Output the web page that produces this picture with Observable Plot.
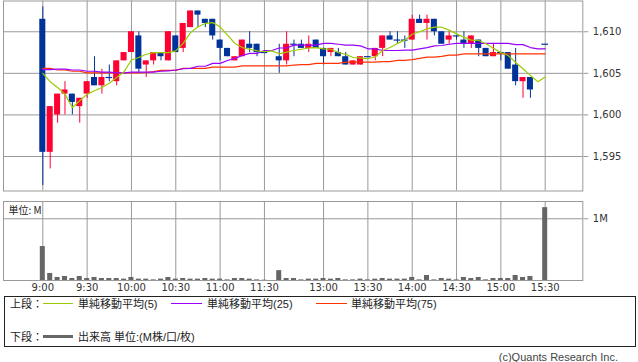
<!DOCTYPE html>
<html><head><meta charset="utf-8">
<script src="https://cdn.jsdelivr.net/npm/d3@7"></script>
<script src="https://cdn.jsdelivr.net/npm/@observablehq/plot@0.6"></script>
<style>
body{margin:0;background:#fff;}
#wrap{position:relative;width:638px;height:362px;overflow:hidden;background:#fff;}
#top,#vol{position:absolute;left:0;}
#top{top:0}
#vol{top:195px}
#box{position:absolute;left:4px;top:296px;width:632px;height:51px;border:1px solid #222;box-sizing:border-box;}
.lg{position:absolute;font-family:"Liberation Sans","Noto Sans CJK JP",sans-serif;font-size:11px;line-height:12px;color:#222;white-space:nowrap;}
.sw{position:absolute;height:0;}
#cap{position:absolute;right:20px;top:351px;font-family:"Liberation Sans",sans-serif;font-size:11px;line-height:13px;color:#444;white-space:nowrap;}
</style></head>
<body>
<div id="wrap">
  <div id="top"></div>
  <div id="vol"></div>
  <div id="box"></div>
  <span class="lg" style="left:10px;top:298px">上段：</span>
  <div class="sw" style="left:43px;width:30px;top:303px;border-top:1px solid #99cc00"></div>
  <span class="lg" style="left:78px;top:298px">単純移動平均(5)</span>
  <div class="sw" style="left:171px;width:31px;top:303px;border-top:1px solid #9900ff"></div>
  <span class="lg" style="left:207px;top:298px">単純移動平均(25)</span>
  <div class="sw" style="left:316px;width:31px;top:303px;border-top:1px solid #ff3300"></div>
  <span class="lg" style="left:351px;top:298px">単純移動平均(75)</span>
  <span class="lg" style="left:10px;top:331px">下段：</span>
  <div class="sw" style="left:43px;width:30px;top:335px;border-top:3px solid #666"></div>
  <span class="lg" style="left:78px;top:331px">出来高 単位:(M株/口/枚)</span>
  <span id="cap">(c)Quants Research Inc.</span>
</div>
<script>
// time tick labels (bar index -> label)
const tickIndex = [0, 6, 12, 18, 24, 30, 38, 44, 50, 56, 62, 68];
const tickLabels = ["9:00","9:30","10:00","10:30","11:00","11:30","13:00","13:30","14:00","14:30","15:00","15:30"];
const priceTicks = [1595, 1600, 1605, 1610];

// 5-minute bars, index 31 = lunch gap, 67 = closing auction gap
const open = [1611.5,1595.5,1600,1602.5,1602.5,1601,1602.5,1604.5,1603.5,1604.5,
  1604,1606.5,1607.5,1609.5,1606,1606.5,1607.5,1606.5,1609.5,1608,
  1610.5,1612.5,1611.5,1611.5,1609,1608,1606.5,1607,1608.5,1608.5,
  1607.5,null,1607,1606.5,1608.5,1608.5,1608,1609,1608,1607.5,
  1607.5,1607,1606,1606,1607,1607,1608,1609.5,1609,1609,
  1609,1611.5,1611,1611.5,1610,1609,1609.5,1609,1608.5,1609,
  1608,1607,1607.5,1607.5,1606,1604,1604.5,null,1608.5];
const close = [1595.5,1601,1602.5,1603,1601.5,1602,1604,1603.5,1604.5,1604.5,
  1606.5,1607.5,1610,1605.5,1606.5,1607.5,1607,1610,1607.5,1611,
  1612.5,1612,1611,1609.5,1608,1607,1607,1609,1608,1607.5,
  1607.5,null,1606.5,1608.5,1608.5,1608,1608.5,1608,1607,1608,
  1607,1606,1606.5,1607,1607,1608,1609.5,1609,1609,1609,
  1611.5,1611,1611.5,1610,1608.5,1609.5,1609.5,1608.5,1609.5,1608,
  1607,1607.5,1607.5,1605.5,1604,1604.5,1603,null,1608.5];
const high = [1613,1601,1602.5,1604,1602.5,1602,1604,1607,1605.5,1606,
  1606.5,1607.5,1610,1610,1606.5,1607.5,1607.5,1610,1609.5,1611,
  1612.5,1612.5,1611.5,1611.5,1609,1608,1607,1609,1610,1608.5,
  1607.5,null,1608.5,1610,1609,1609,1609.5,1609,1608,1608,
  1608,1607.5,1606.5,1607,1607,1608,1609.5,1610,1610,1609.5,
  1612,1612,1612,1611.5,1610,1610,1609.5,1610,1609.5,1609,
  1608,1608.5,1607.5,1607.5,1608,1604.5,1604.5,null,1608.5];
const low = [1591.5,1593.5,1599,1600,1600,1599,1602,1603.5,1602.5,1604,
  1603.5,1606.5,1607.5,1605,1604.5,1606,1606.5,1606.5,1607.5,1607.5,
  1610.5,1610.5,1610.5,1609,1606.5,1607,1606.5,1607,1607.5,1607,
  1607.5,null,1605,1606,1607,1608,1607.5,1608,1606,1607,
  1607,1606,1606,1606,1607,1606.5,1607,1609,1608.5,1608,
  1609,1611,1609,1609.5,1608.5,1608.5,1609,1608,1608,1607,
  1607,1607,1606.5,1605.5,1603.5,1602,1602,null,1608.5];

const ma5 = [1605.0,1604.0,1603.3,1602.5,1600.9,1601.7,1602.5,1602.9,1603.3,1603.8,
  1604.5,1605.2,1606.6,1606.9,1607.3,1607.5,1607.5,1607.5,1607.7,1608.6,
  1609.9,1610.6,1611.0,1611.1,1610.6,1609.6,1608.6,1608.1,1607.9,1607.7,
  1607.6,1607.7,1607.35,1607.55,1607.75,1607.9,1608.05,1608.1,1607.95,1607.9,
  1607.5,1607.3,1606.9,1606.85,1606.75,1607.0,1607.75,1608.1,1608.6,1609.0,
  1609.7,1610.0,1610.35,1610.55,1610.55,1610.2,1609.75,1609.35,1609.0,1608.95,
  1608.55,1608.0,1607.5,1607.15,1606.3,1605.55,1604.75,1604.0,1604.55];
const ma25 = [1605.45,1605.45,1605.5,1605.5,1605.4,1605.4,1605.25,1605.25,1605.15,1605.15,
  1605.05,1605.05,1605.15,1605.15,1605.15,1605.15,1605.25,1605.3,1605.4,1605.55,
  1605.6,1605.85,1605.85,1606.2,1606.2,1606.55,1606.8,1607.15,1607.4,1607.4,
  1607.75,1607.75,1608.05,1608.05,1608.4,1608.4,1608.4,1608.4,1608.6,1608.6,
  1608.5,1608.4,1608.4,1608.3,1607.95,1607.95,1607.75,1607.75,1607.75,1607.8,
  1607.8,1607.95,1608.1,1608.3,1608.35,1608.5,1608.6,1608.6,1608.6,1608.6,
  1608.6,1608.6,1608.6,1608.6,1608.45,1608.45,1608.1,1607.95,1607.95];
const ma75 = [1605.6,1605.6,1605.4,1605.4,1605.25,1605.25,1605.05,1605.05,1605.05,1605.05,
  1605.05,1605.05,1605.05,1605.05,1605.1,1605.2,1605.35,1605.35,1605.35,1605.6,
  1605.6,1605.6,1605.6,1605.75,1605.75,1605.75,1605.75,1605.9,1605.9,1605.9,
  1605.9,1605.9,1605.9,1605.9,1606.0,1606.05,1606.05,1606.2,1606.2,1606.2,
  1606.2,1606.35,1606.35,1606.35,1606.35,1606.35,1606.4,1606.4,1606.55,1606.55,
  1606.65,1606.8,1606.95,1606.95,1607.05,1607.2,1607.2,1607.35,1607.35,1607.35,
  1607.35,1607.35,1607.35,1607.35,1607.35,1607.35,1607.35,1607.35,1607.35];

// volume in millions
const volume = [0.55,0.114,0.049,0.065,0.032,0.065,0.032,0.049,0.032,0.032,
  0.032,0.022,0.049,0.022,0.022,0.01,0.022,0.049,0.022,0.032,
  0.022,0.022,0.032,0.022,0.022,0.01,0.032,0.032,0.022,0.01,
  0.005,null,0.16,0.032,0.032,0.01,0.022,0.022,0.032,0.022,
  0.032,0.01,0.01,0.022,0.01,0.022,0.032,0.022,0.022,0.022,
  0.049,0.01,0.081,0.01,0.032,0.022,0.01,0.049,0.032,0.049,
  0.01,0.032,0.032,0.032,0.081,0.049,0.065,null,1.18];

const RED = "#ff0033", BLUE = "#003399", GRID = "#999";
const xDomain = [-5.32, 73.09];
const idx = d3.range(open.length);
const labelOf = new Map(tickIndex.map((t, k) => [t, tickLabels[k]]));

const bars = idx.filter(i => open[i] != null).map(i => ({i, o: open[i], h: high[i], l: low[i], c: close[i]}));
const colorOf = d => d.c > d.o ? RED : BLUE;
const maRows = idx.map(i => ({i, ma5: ma5[i], ma25: ma25[i], ma75: ma75[i]}));
const volRows = idx.filter(i => volume[i] != null).map(i => ({i, v: volume[i]}));

const topChart = Plot.plot({
  width: 638, height: 191,
  marginLeft: 3, marginRight: 55.7, marginTop: 0.5, marginBottom: 0.5,
  x: {type: "linear", domain: xDomain, axis: null, label: null},
  y: {domain: [1590.85, 1613.70], axis: null, label: null},
  style: {fontFamily: "DejaVu Sans", fontSize: "10px", color: "#333", background: "transparent", overflow: "visible"},
  marks: [
    Plot.gridX(tickIndex, {stroke: GRID, strokeOpacity: 1}),
    Plot.gridY(priceTicks, {stroke: GRID, strokeOpacity: 1}),
    Plot.axisY(priceTicks, {anchor: "right", label: null, tickSize: 5, tickPadding: 5, stroke: GRID, tickFormat: d3.format(",")}),
    Plot.frame({stroke: GRID}),
    Plot.ruleX(bars, {x: "i", y1: "l", y2: "h", stroke: colorOf, strokeWidth: 1}),
    Plot.rect(bars.filter(d => d.o !== d.c), {x1: d => d.i - 0.41, x2: d => d.i + 0.41, y1: "o", y2: "c", fill: colorOf}),
    Plot.ruleY(bars.filter(d => d.o === d.c), {y: "o", x1: d => d.i - 0.45, x2: d => d.i + 0.45, stroke: BLUE, strokeWidth: 1.2}),
    Plot.line(maRows, {x: "i", y: "ma75", stroke: "#ff3300", strokeWidth: 1.2}),
    Plot.line(maRows, {x: "i", y: "ma25", stroke: "#9900ff", strokeWidth: 1.2}),
    Plot.line(maRows, {x: "i", y: "ma5", stroke: "#99cc00", strokeWidth: 1.2})
  ]
});
document.getElementById("top").appendChild(topChart);

const volChart = Plot.plot({
  width: 638, height: 100,
  marginLeft: 3, marginRight: 55.7, marginTop: 6, marginBottom: 15,
  x: {type: "linear", domain: xDomain, axis: null, label: null},
  y: {domain: [0, 1.28], axis: null, label: null},
  style: {fontFamily: "DejaVu Sans", fontSize: "10px", color: "#333", background: "transparent", overflow: "visible"},
  marks: [
    Plot.gridX(tickIndex, {stroke: GRID, strokeOpacity: 1}),
    Plot.gridY([1], {stroke: GRID, strokeOpacity: 1}),
    Plot.axisY([1], {anchor: "right", label: null, tickSize: 5, tickPadding: 5, stroke: GRID, tickFormat: () => "1M"}),
    Plot.axisX(tickIndex, {anchor: "bottom", label: null, tickSize: 0, tickPadding: 3, tickFormat: d => labelOf.get(d)}),
    Plot.frame({stroke: GRID}),
    Plot.rect(volRows, {x1: d => d.i - 0.34, x2: d => d.i + 0.34, y1: 0, y2: "v", fill: "#666"}),
    Plot.text(["単位: M"], {frameAnchor: "top-left", dx: 5, dy: 9, textAnchor: "start", lineAnchor: "middle", fontFamily: "Noto Sans CJK JP", fontSize: 10, fill: "#222"})
  ]
});
document.getElementById("vol").appendChild(volChart);
</script>
</body></html>
